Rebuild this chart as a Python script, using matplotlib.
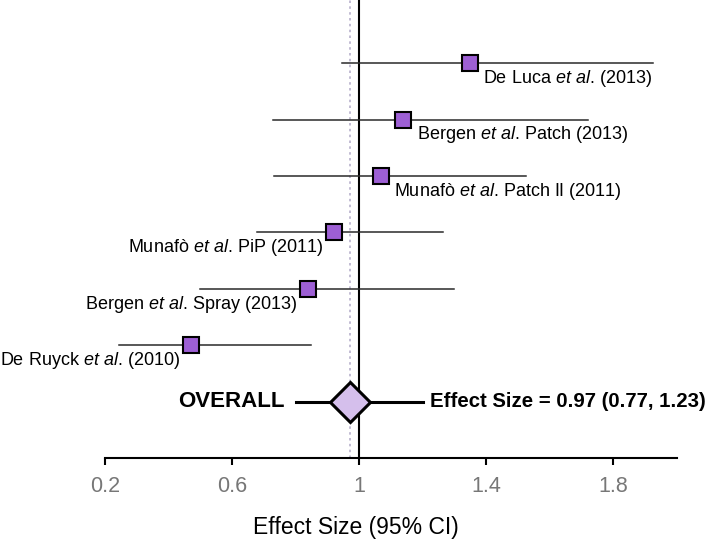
import matplotlib
matplotlib.use("Agg")
import matplotlib.pyplot as plt

plt.rcParams['font.family'] = ['Liberation Sans', 'DejaVu Sans']
plt.rcParams['mathtext.fontset'] = 'custom'
plt.rcParams['mathtext.rm'] = 'Liberation Sans'
plt.rcParams['mathtext.it'] = 'Liberation Sans:italic'

# ---- data ----
authors = ["De Luca", "Bergen", "Munafò", "Munafò", "Bergen", "De Ruyck"]
details = ["(2013)", "Patch (2013)", "Patch II (2011)", "PiP (2011)", "Spray (2013)", "(2010)"]
estimates = [1.35, 1.14, 1.07, 0.92, 0.84, 0.47]
ci_low = [0.945, 0.73, 0.733, 0.68, 0.50, 0.245]
ci_high = [1.925, 1.72, 1.525, 1.265, 1.30, 0.85]

overall_est = 0.97
overall_low = 0.80
overall_high = 1.20
overall_text = "Effect Size = 0.97 (0.77, 1.23)"

xticks = [0.2, 0.6, 1.0, 1.4, 1.8]
xticklabels = ["0.2", "0.6", "1", "1.4", "1.8"]

square_color = "#9d5fd4"
diamond_color = "#d5bfec"

fig = plt.figure(figsize=(7.10, 5.42), dpi=100)
ax = fig.add_axes([0.1479, 0.155, 0.805, 0.845])

rows = list(range(len(estimates)))
overall_row = len(estimates)

# reference lines
ax.axvline(1.0, color="black", lw=1.5, zorder=1)
ax.axvline(overall_est, color="#b8b0cc", lw=1.2, ls=(0, (1.5, 2)), zorder=1)

# studies
for r, est, lo, hi, au, de in zip(rows, estimates, ci_low, ci_high, authors, details):
    ax.plot([lo, hi], [r, r], color="#2a2a2a", lw=1.1, zorder=2)
    ax.plot(est, r, marker="s", ms=12.2, mfc=square_color, mec="black",
            mew=1.5, zorder=3, ls="none")
    label = au + r" $\mathit{et\ al}$. " + de
    if est > 1:
        ax.annotate(label, xy=(est, r), xytext=(9.5, -11), textcoords="offset points",
                    ha="left", va="center", fontsize=13, annotation_clip=False)
    else:
        ax.annotate(label, xy=(est, r), xytext=(-8, -11), textcoords="offset points",
                    ha="right", va="center", fontsize=13, annotation_clip=False)

# overall
ax.plot([overall_low, overall_high], [overall_row, overall_row], color="black", lw=2.2, zorder=2)
ax.plot(overall_est, overall_row, marker="D", ms=20, mfc=diamond_color, mec="black",
        mew=2.2, zorder=3, ls="none")
ax.annotate("OVERALL", xy=(overall_low, overall_row), xytext=(-8, 0),
            textcoords="offset points", ha="right", va="center",
            fontsize=16, fontweight="bold", annotation_clip=False)
ax.annotate(overall_text, xy=(overall_high, overall_row), xytext=(5.5, 0),
            textcoords="offset points", ha="left", va="center",
            fontsize=14.7, fontweight="bold", annotation_clip=False)

ax.set_xlim(0.2, 2.0)
ax.set_ylim(7.0, -1.12)
for s in ["top", "right", "left"]:
    ax.spines[s].set_visible(False)
ax.spines["bottom"].set_linewidth(1.5)
ax.set_yticks([])
ax.set_xticks(xticks)
ax.set_xticklabels(xticklabels)
ax.tick_params(axis="x", direction="out", length=5, width=1.5, pad=8,
               labelsize=15.5, labelcolor="#777777")
ax.set_xlabel("Effect Size (95% CI)", fontsize=16.5, labelpad=14)
ax.xaxis.label.set_x(0.439)

fig.savefig("out.png", dpi=100)
